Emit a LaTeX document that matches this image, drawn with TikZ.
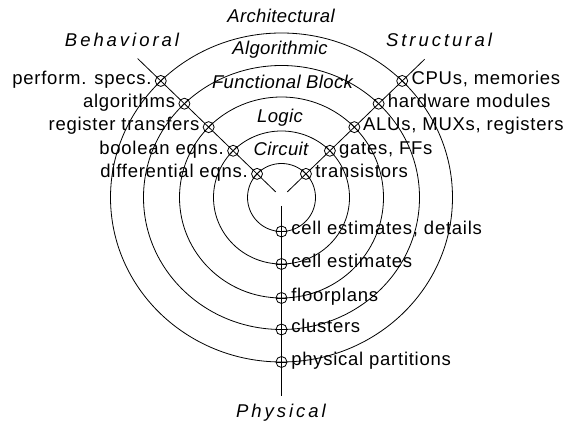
\documentclass[tikz,border=0pt]{standalone}
\usepackage{fontspec}
\setmainfont{Liberation Sans}
\newfontfamily\lblfont[LetterSpace=4]{Liberation Sans}
\newfontfamily\lvlfont[LetterSpace=2]{Liberation Sans}
\newfontfamily\axfont[LetterSpace=16]{Liberation Sans}
\begin{document}
\begin{tikzpicture}[x=1pt,y=1pt,line width=0.8pt,
  mk/.style={circle,draw,inner sep=0pt,minimum size=11pt},
  lbl/.style={inner sep=0pt,font=\lblfont\fontsize{18.5}{22}\selectfont},
  lvl/.style={inner sep=0pt,anchor=base,font=\lvlfont\itshape\fontsize{18.5}{22}\selectfont},
  ax/.style={inner sep=0pt,anchor=base,font=\axfont\itshape\fontsize{18.5}{22}\selectfont}]
\useasboundingbox (0,0) rectangle (568,427);
\coordinate (C) at (281.5,229.5);
% rings
\draw (C) ellipse [x radius=34,y radius=34];
\draw (C) ellipse [x radius=68,y radius=66.5];
\draw (C) ellipse [x radius=102,y radius=100.5];
\draw (C) ellipse [x radius=138,y radius=132];
\draw (C) ellipse [x radius=171,y radius=164.5];
% axes
\coordinate (bS) at ([shift={(136:8)}]C);
\coordinate (bE) at ([shift={(136:200)}]C);
\coordinate (sS) at ([shift={(44:8)}]C);
\coordinate (sE) at ([shift={(44:199)}]C);
\coordinate (pS) at ([shift={(0,-8.5)}]C);
\coordinate (pE) at ([shift={(0,-198.5)}]C);
\draw (bS) -- (bE);
\draw (sS) -- (sE);
\draw (pS) -- (pE);
% behavioral markers
\node[mk] (b1) at ([shift={(136:34.0)}]C) {};
\node[mk] (b2) at ([shift={(136:67.26)}]C) {};
\node[mk] (b3) at ([shift={(136:101.27)}]C) {};
\node[mk] (b4) at ([shift={(136:135.0)}]C) {};
\node[mk] (b5) at ([shift={(136:167.8)}]C) {};
\foreach \m in {b1,b2,b3,b4,b5} \draw (\m.46) -- (\m.226);
% structural markers
\node[mk] (s1) at ([shift={(44:34.0)}]C) {};
\node[mk] (s2) at ([shift={(44:67.26)}]C) {};
\node[mk] (s3) at ([shift={(44:101.27)}]C) {};
\node[mk] (s4) at ([shift={(44:135.0)}]C) {};
\node[mk] (s5) at ([shift={(44:167.8)}]C) {};
\foreach \m in {s1,s2,s3,s4,s5} \draw (\m.134) -- (\m.314);
% physical markers
\node[mk] (p1) at ([shift={(0,-34)}]C) {};
\node[mk] (p2) at ([shift={(0,-66.5)}]C) {};
\node[mk] (p3) at ([shift={(0,-100.5)}]C) {};
\node[mk] (p4) at ([shift={(0,-132)}]C) {};
\node[mk] (p5) at ([shift={(0,-164.5)}]C) {};
\foreach \m in {p1,p2,p3,p4,p5} \draw (\m.west) -- (\m.east);
% behavioral labels
\node[lbl,anchor=mid east] at ([xshift=-3pt,yshift=-0.8pt]b5.west) {perform. specs.};
\node[lbl,anchor=mid east] at ([xshift=-3pt,yshift=-0.8pt]b4.west) {algorithms};
\node[lbl,anchor=mid east] at ([xshift=-3pt,yshift=-0.8pt]b3.west) {register transfers};
\node[lbl,anchor=mid east] at ([xshift=-3pt,yshift=-0.8pt]b2.west) {boolean eqns.};
\node[lbl,anchor=mid east] at ([xshift=-3pt,yshift=-0.8pt]b1.west) {differential eqns.};
% structural labels
\node[lbl,anchor=mid west] at ([xshift=3pt,yshift=-0.8pt]s5.east) {CPUs, memories};
\node[lbl,anchor=mid west] at ([xshift=3pt,yshift=-0.8pt]s4.east) {hardware modules};
\node[lbl,anchor=mid west] at ([xshift=2.5pt,yshift=-0.8pt]s3.east) {ALUs, MUXs, registers};
\node[lbl,anchor=mid west] at ([xshift=3pt,yshift=-0.8pt]s2.east) {gates, FFs};
\node[lbl,anchor=mid west] at ([xshift=3pt,yshift=-0.8pt]s1.east) {transistors};
% physical labels
\node[lbl,anchor=mid west] at ([xshift=3.5pt,yshift=-0.8pt]p1.east) {cell estimates, details};
\node[lbl,anchor=mid west] at ([xshift=3.5pt,yshift=-0.8pt]p2.east) {cell estimates};
\node[lbl,anchor=mid west] at ([xshift=3.5pt,yshift=-0.8pt]p3.east) {floorplans};
\node[lbl,anchor=mid west] at ([xshift=3.5pt,yshift=-0.8pt]p4.east) {clusters};
\node[lbl,anchor=mid west] at ([xshift=3.5pt,yshift=-0.8pt]p5.east) {physical partitions};
% level labels
\node[lvl] (lA) at (281,404) {Architectural};
\node[lvl] (lB) at (280,372) {Algorithmic};
\node[lvl] (lF) at (282.5,338) {Functional Block};
\node[lvl] (lL) at (280,304) {Logic};
\node[lvl] (lC) at (281,271.3) {Circuit};
% axis titles
\node[ax] (tB) at (122,380) {Behavioral};
\node[ax] (tS) at (439,380) {Structural};
\node[ax] (tP) at (281,9) {Physical};
\end{tikzpicture}
\end{document}
